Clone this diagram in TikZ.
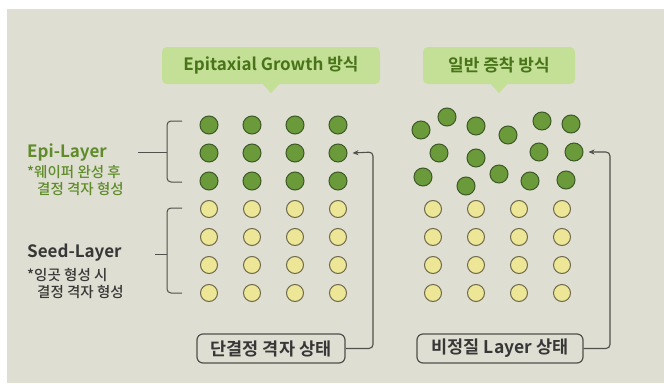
\documentclass[tikz,border=0pt]{standalone}
\usepackage{fontspec}
\setmainfont{Noto Sans CJK KR}[BoldFont={Noto Sans CJK KR Bold}]
\newfontfamily\notefont{Noto Sans CJK KR Medium}
\usetikzlibrary{arrows.meta,positioning}

\definecolor{panel}{RGB}{222,222,210}
\definecolor{grainfill}{RGB}{106,154,58}
\definecolor{grainline}{RGB}{62,88,40}
\definecolor{seedfill}{RGB}{236,230,150}
\definecolor{seedline}{RGB}{110,105,75}
\definecolor{bubblefill}{RGB}{195,224,150}
\definecolor{bubbletext}{RGB}{72,115,25}
\definecolor{epitext}{RGB}{95,140,40}
\definecolor{darktext}{RGB}{55,55,55}
\definecolor{wirecolor}{RGB}{80,80,76}

\begin{document}
\begin{tikzpicture}[x=1pt,y=-1pt]
  \tikzset{
    epi/.style = {circle, draw=grainline, fill=grainfill, line width=1pt,
                  minimum size=18pt, inner sep=0pt},
    seed/.style = {circle, draw=seedline, fill=seedfill, line width=1pt,
                   minimum size=17pt, inner sep=0pt},
    bubble/.style = {fill=bubblefill, rounded corners=5pt, text=bubbletext,
                     minimum height=37pt, inner sep=0pt,
                     font=\bfseries\fontsize{17}{19}\selectfont},
    statebox/.style = {draw=wirecolor, line width=1.2pt, rounded corners=6pt,
                       minimum height=29pt, inner sep=0pt, text=darktext,
                       font=\bfseries\fontsize{17.5}{19}\selectfont},
    wire/.style = {draw=wirecolor, line width=1.1pt, rounded corners=4pt},
    tip/.style = {-{Stealth[length=6pt,width=5pt]}},
    layername/.style = {anchor=west, inner sep=0pt,
                        font=\bfseries\fontsize{17}{19}\selectfont},
    layernote/.style = {anchor=base west, align=left, inner sep=0pt,
                        font=\notefont\fontsize{14.5}{17}\selectfont},
  }
  % page and panel
  \fill[white] (0,0) rectangle (664,383);
  \fill[panel] (7,9) rectangle (664,383);
  \useasboundingbox (0,0) rectangle (664,383);

  % headings
  \node[bubble, minimum width=218pt] (howepi) at (271,65.5) {Epitaxial Growth 방식};
  \fill[bubblefill] ([xshift=-8pt]howepi.south) -- ([yshift=-9pt]howepi.south)
    -- ([xshift=8pt]howepi.south) -- cycle;
  \node[bubble, minimum width=152pt] (howdep) at (499,65.5) {일반 증착 방식};
  \fill[bubblefill] ([xshift=-8pt]howdep.south) -- ([yshift=-9pt]howdep.south)
    -- ([xshift=8pt]howdep.south) -- cycle;

  % ordered lattice
  \foreach \r in {1,2,3}
    \foreach \c in {1,...,4}
      \node[epi] (a-\r-\c) at ({166+43*\c},{97+28*\r}) {};
  \foreach \r in {4,...,7}
    \foreach \c in {1,...,4}
      \node[seed] (a-\r-\c) at ({166+43*\c},{97+28*\r}) {};

  % disordered deposit on the same seed
  \foreach \x/\y [count=\i] in {421/130, 447/117, 476/126, 508/135, 542/121,
      571/124, 439/153, 476/158, 539/152, 574/152, 423/177, 466/186,
      499/174, 530/181, 566/180}
    \node[epi] (b-\i) at (\x,\y) {};
  \foreach \r in {4,...,7}
    \foreach \c in {1,...,4}
      \node[seed] (b-\r-\c) at ({390+43*\c},{97+28*\r}) {};

  % layer labels (note nodes sit on the baseline of their last line)
  \node[layername, text=epitext] (epiname) at (27,153) {Epi-Layer};
  \node[layernote, text=epitext] (epinote) at (27,194)
    {*웨이퍼 완성 후\\\hspace{10pt}결정 격자 형성};
  \node[layername, text=darktext] (seedname) at (27,253) {Seed-Layer};
  \node[layernote, text=darktext] (seednote) at (27,297)
    {*잉곳 형성 시\\\hspace{10pt}결정 격자 형성};

  % brackets
  \draw[wire, line width=1pt] (182,121) -| (167,182) -- (182,182);
  \draw[wire, line width=1pt] (138,152) -- (167,152);
  \draw[wire, line width=1pt] (182,208) -| (167,293) -- (182,293);
  \draw[wire, line width=1pt] (155,254) -- (167,254);

  % states
  \node[statebox, minimum width=148pt] (single) at (271,348.5) {단결정 격자 상태};
  \node[statebox, minimum width=166pt] (amorph) at (500,348.5) {비정질 Layer 상태};
  \coordinate (singleturn) at (373,152);
  \coordinate (amorphturn) at (610,152);
  \draw[wire, tip] (single.east) -| (singleturn) -- ([xshift=5pt]a-2-4.east);
  \draw[wire, tip] (amorph.east) -| (amorphturn) -- ([xshift=5pt]b-10.east);
\end{tikzpicture}
\end{document}
